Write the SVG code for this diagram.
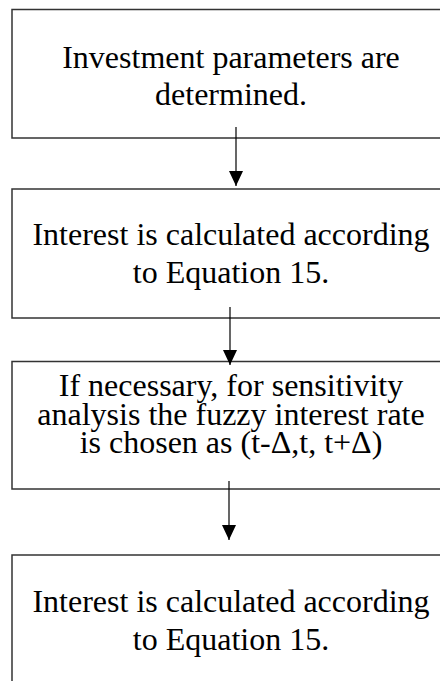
<svg xmlns="http://www.w3.org/2000/svg" width="440" height="681" viewBox="0 0 440 681">
<defs>
<style>
.box{fill:#fff;stroke:#333;stroke-width:1.5}
.t{font-family:"Liberation Serif","Times New Roman",serif;font-size:32px;fill:#000;text-anchor:middle}
.conn{stroke:#000;stroke-width:1.2;fill:none}
</style>
<marker id="ah" viewBox="0 0 15 14" refX="15" refY="7" markerWidth="15" markerHeight="14" markerUnits="userSpaceOnUse" orient="auto">
<path d="M0,0 L15,7 L0,14 z" fill="#000"/>
</marker>
</defs>
<rect width="440" height="681" fill="#fff"/>
<g id="n1">
<rect class="box" x="12" y="9.5" width="460" height="128.5"/>
<text class="t" x="231" y="68">Investment parameters are</text>
<text class="t" x="231" y="105">determined.</text>
</g>
<g id="n2">
<rect class="box" x="12" y="189" width="460" height="129"/>
<text class="t" x="231" y="245">Interest is calculated according</text>
<text class="t" x="231" y="283">to Equation 15.</text>
</g>
<g id="n3">
<rect class="box" x="12" y="361.5" width="460" height="127.5"/>
<text class="t" x="231" y="396">If necessary, for sensitivity</text>
<text class="t" x="231" y="425">analysis the fuzzy interest rate</text>
<text class="t" x="231" y="453">is chosen as (t-Δ,t, t+Δ)</text>
</g>
<g id="n4">
<rect class="box" x="12" y="555" width="460" height="150"/>
<text class="t" x="231" y="612">Interest is calculated according</text>
<text class="t" x="231" y="650">to Equation 15.</text>
</g>
<g id="connectors">
<line class="conn" x1="236" y1="127" x2="236" y2="186" marker-end="url(#ah)"/>
<line class="conn" x1="230" y1="307" x2="230" y2="365" marker-end="url(#ah)"/>
<line class="conn" x1="229" y1="481" x2="229" y2="540" marker-end="url(#ah)"/>
</g>
</svg>
